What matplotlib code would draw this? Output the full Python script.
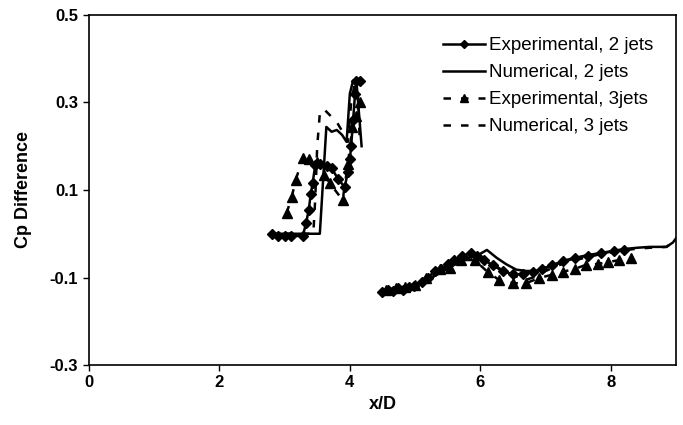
import numpy as np
import matplotlib
matplotlib.use("Agg")
from matplotlib import pyplot as plt

plt.rcParams['font.family'] = ['Liberation Sans', 'DejaVu Sans']

# Experimental, 2 jets (two separate groups, gap marked by nan)
exp2_x = [2.8, 2.9, 3.0, 3.1, 3.28, 3.33, 3.37, 3.4, 3.43, 3.47, 3.55, 3.65, 3.72, 3.82, 3.92,
          3.97, 4.0, 4.02, 4.05, 4.08, 4.1, 4.15, np.nan,
          4.5, 4.58, 4.66, 4.74, 4.82, 4.9, 4.98, 5.1, 5.2, 5.3, 5.4, 5.5, 5.6, 5.72, 5.85, 5.95,
          6.06, 6.19, 6.34, 6.5, 6.65, 6.8, 6.95, 7.1, 7.26, 7.45, 7.65, 7.85, 8.05, 8.2]
exp2_y = [0.0, -0.005, -0.005, -0.005, -0.005, 0.025, 0.054, 0.09, 0.116, 0.157, 0.16, 0.155, 0.15,
          0.125, 0.107, 0.14, 0.17, 0.2, 0.26, 0.32, 0.35, 0.35, np.nan,
          -0.133, -0.128, -0.13, -0.125, -0.128, -0.122, -0.12, -0.11, -0.1, -0.085, -0.08, -0.07,
          -0.06, -0.05, -0.045, -0.05, -0.06, -0.072, -0.085, -0.093, -0.092, -0.088, -0.08,
          -0.072, -0.062, -0.055, -0.05, -0.045, -0.04, -0.037]

# Numerical, 2 jets
num2_x = [2.8, 3.5, 3.54, 3.64, 3.72, 3.8, 3.88, 3.95, 4.0, 4.05, 4.1, 4.18, np.nan,
          4.5, 4.8, 5.0, 5.2, 5.4, 5.6, 5.8, 5.95, 6.1, 6.25, 6.4, 6.55, 6.7, 6.85, 7.0, 7.2,
          7.4, 7.6, 7.8, 8.0, 8.2, 8.4, 8.6, 8.85, 8.95, 9.0]
num2_y = [0.0, 0.0, 0.0, 0.244, 0.233, 0.237, 0.226, 0.21, 0.32, 0.35, 0.35, 0.2, np.nan,
          -0.133, -0.125, -0.118, -0.105, -0.085, -0.065, -0.055, -0.05, -0.037, -0.055, -0.07,
          -0.082, -0.085, -0.085, -0.078, -0.068, -0.058, -0.05, -0.045, -0.04, -0.035, -0.032,
          -0.03, -0.03, -0.02, -0.01]

# Experimental, 3jets
exp3_x = [3.03, 3.11, 3.17, 3.28, 3.38, 3.49, 3.61, 3.69, 3.89, 3.97, 4.04, 4.1, 4.15, np.nan,
          4.55, 4.7, 4.85, 5.0, 5.17, 5.38, 5.53, 5.71, 5.91, 6.11, 6.29, 6.5, 6.7, 6.9, 7.09,
          7.26, 7.45, 7.62, 7.8, 7.95, 8.13, 8.31]
exp3_y = [0.047, 0.084, 0.123, 0.173, 0.17, 0.165, 0.134, 0.116, 0.077, 0.16, 0.244, 0.27, 0.30, np.nan,
          -0.128, -0.125, -0.122, -0.118, -0.1, -0.08, -0.078, -0.06, -0.06, -0.087, -0.106,
          -0.113, -0.113, -0.101, -0.094, -0.087, -0.08, -0.071, -0.069, -0.065, -0.06, -0.056]

# Numerical, 3 jets
num3_x = [3.0, 3.44, 3.47, 3.5, 3.54, 3.6, 3.7, 3.8, 3.9, 3.97, 4.02, 4.07, 4.12, 4.15, np.nan,
          4.5, 4.8, 5.0, 5.2, 5.4, 5.6, 5.8, 5.95, 6.1, 6.3, 6.5, 6.7, 6.85, 7.0, 7.2, 7.4, 7.6,
          7.8, 8.0, 8.2, 8.4, 8.6, 8.85, 9.0]
num3_y = [0.0, 0.0, 0.08, 0.2, 0.275, 0.285, 0.27, 0.255, 0.23, 0.21, 0.3, 0.34, 0.33, 0.22, np.nan,
          -0.133, -0.127, -0.12, -0.105, -0.088, -0.068, -0.058, -0.055, -0.06, -0.08, -0.095,
          -0.105, -0.098, -0.085, -0.072, -0.062, -0.055, -0.048, -0.043, -0.038, -0.034,
          -0.032, -0.03, -0.015]

x_ticks = [0, 2, 4, 6, 8]
y_ticks = [-0.3, -0.1, 0.1, 0.3, 0.5]
y_tick_labels = ['-0.3', '-0.1', '0.1', '0.3', '0.5']

fig = plt.figure(figsize=(6.83, 4.25), dpi=100)
ax = fig.add_axes([0.130, 0.141, 0.860, 0.824])

ax.plot(exp2_x, exp2_y, color='black', lw=1.8, marker='D', ms=5.5,
        label='Experimental, 2 jets')
ax.plot(num2_x, num2_y, color='black', lw=1.8, label='Numerical, 2 jets')
ax.plot(exp3_x, exp3_y, color='black', lw=1.8, ls=(0, (3, 4)), marker='^', ms=7,
        label='Experimental, 3jets')
ax.plot(num3_x, num3_y, color='black', lw=1.8, ls=(0, (3, 4)), label='Numerical, 3 jets')

ax.set_xlim(0, 9)
ax.set_ylim(-0.3, 0.5)
ax.set_xticks(x_ticks)
ax.set_yticks(y_ticks)
ax.set_yticklabels(y_tick_labels)
ax.tick_params(direction='out', length=4, width=1, labelsize=12)
for lab in ax.get_xticklabels() + ax.get_yticklabels():
    lab.set_fontweight('bold')
for sp in ax.spines.values():
    sp.set_linewidth(1.2)

ax.set_xlabel('x/D', fontsize=13, fontweight='bold', labelpad=4)
ax.set_ylabel('Cp Difference', fontsize=13, fontweight='bold', labelpad=13)

ax.legend(loc='upper right', frameon=False, fontsize=13.5, handlelength=2.2,
          handletextpad=0.25, labelspacing=0.52, borderaxespad=0.8,
          markerscale=0.8)

fig.savefig('out.png', dpi=100)
